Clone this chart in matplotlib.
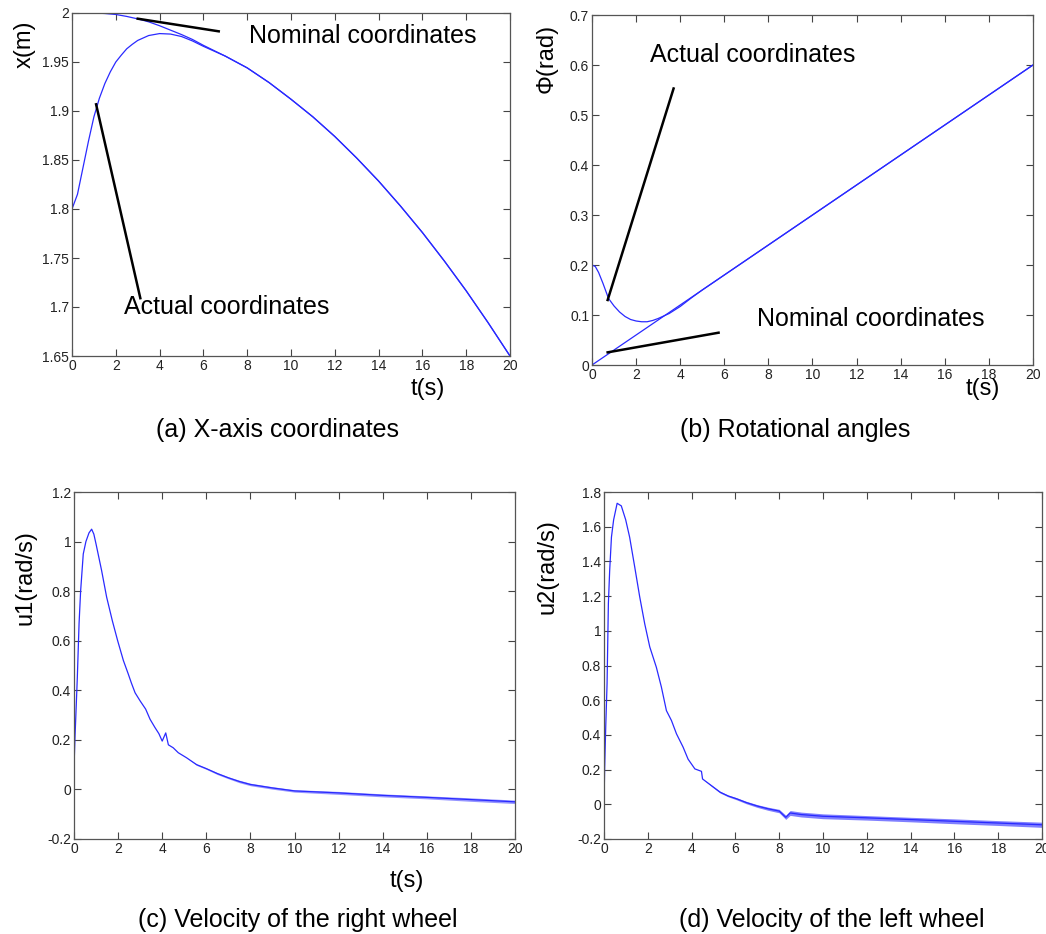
import numpy as np
import matplotlib
matplotlib.use("Agg")
import matplotlib.pyplot as plt
from matplotlib.ticker import FormatStrFormatter

plt.rcParams['font.family'] = ['Liberation Sans', 'DejaVu Sans']

# (a) x coordinate, nominal and actual
t_xnom = [0, 1, 1.5, 2, 2.5, 3, 3.5, 4, 4.5, 5, 5.5, 6, 7, 8, 9, 10, 11, 12, 13, 14, 15, 16,
          17, 18, 19, 20]
x_nom = [2.0, 2.0, 1.9995, 1.9985, 1.9965, 1.994, 1.991, 1.987, 1.9825, 1.978, 1.973, 1.967,
         1.956, 1.944, 1.929, 1.912, 1.894, 1.874, 1.852, 1.8285, 1.803, 1.776, 1.747, 1.7165,
         1.684, 1.65]
t_xact = [0, 0.25, 0.5, 0.75, 1, 1.25, 1.5, 1.75, 2, 2.25, 2.5, 2.75, 3, 3.5, 4, 4.5, 5, 5.5,
          6, 7, 8, 9, 10, 11, 12, 13, 14, 15, 16, 17, 18, 19, 20]
x_act = [1.8, 1.815, 1.842, 1.869, 1.894, 1.913, 1.928, 1.940, 1.950, 1.957, 1.9635, 1.968,
         1.972, 1.977, 1.979, 1.9785, 1.976, 1.9715, 1.966, 1.956, 1.944, 1.929, 1.912, 1.894,
         1.874, 1.852, 1.8285, 1.803, 1.776, 1.747, 1.7165, 1.684, 1.65]

# (b) rotational angle
t_pnom = [0, 20]
p_nom = [0.0, 0.6]
t_pact = [0, 0.15, 0.3, 0.5, 0.75, 1, 1.25, 1.5, 1.75, 2, 2.25, 2.5, 2.75, 3, 3.5, 4, 4.5, 5,
          10, 15, 20]
p_act = [0.2, 0.197, 0.185, 0.163, 0.133, 0.118, 0.106, 0.097, 0.091, 0.088, 0.0865, 0.0865,
         0.089, 0.093, 0.103, 0.117, 0.134, 0.15, 0.3, 0.45, 0.6]

# (c) right wheel velocity
t_u1 = [0, 0.045, 0.15, 0.23, 0.3, 0.42, 0.54, 0.68, 0.8, 0.9, 1.0, 1.25, 1.48, 1.74, 1.98,
        2.24, 2.46, 2.6, 2.77, 3.0, 3.25, 3.45, 3.67, 3.85, 4.0, 4.16, 4.28, 4.5, 4.73, 5.1,
        5.56, 6, 6.5, 7, 7.5, 8, 9, 10, 12, 14, 16, 18, 20]
u1 = [0.09, 0.21, 0.45, 0.67, 0.80, 0.95, 1.0, 1.035, 1.05, 1.03, 0.99, 0.884, 0.776, 0.68,
      0.60, 0.52, 0.466, 0.43, 0.39, 0.357, 0.324, 0.283, 0.25, 0.225, 0.195, 0.228, 0.18,
      0.168, 0.148, 0.128, 0.10, 0.084, 0.064, 0.047, 0.032, 0.02, 0.006, -0.006, -0.014,
      -0.024, -0.032, -0.041, -0.05]
u1_noise = [0] * 30 + [0.003, 0.003, 0.004, 0.004, 0.005, 0.005, 0.005, 0.005, 0.006, 0.006,
                       0.006, 0.007, 0.007]

# (d) left wheel velocity
t_u2 = [0, 0.03, 0.08, 0.14, 0.2, 0.26, 0.34, 0.44, 0.6, 0.79, 0.99, 1.17, 1.4, 1.63, 1.86,
        2.09, 2.39, 2.62, 2.85, 3.08, 3.31, 3.61, 3.84, 4.15, 4.45, 4.5, 4.9, 5.3, 5.67, 6.05,
        6.5, 7, 7.5, 8, 8.3, 8.5, 9, 10, 12, 14, 16, 18, 20]
u2 = [0.0, 0.21, 0.45, 0.695, 1.157, 1.35, 1.54, 1.64, 1.735, 1.72, 1.64, 1.54, 1.37, 1.196,
      1.04, 0.907, 0.79, 0.676, 0.54, 0.483, 0.406, 0.33, 0.26, 0.204, 0.19, 0.146, 0.108,
      0.07, 0.048, 0.032, 0.01, -0.01, -0.026, -0.039, -0.075, -0.05, -0.059, -0.069, -0.078,
      -0.088, -0.098, -0.108, -0.118]
u2_noise = [0] * 26 + [0.004, 0.005, 0.005, 0.006, 0.007, 0.008, 0.009, 0.01, 0.012, 0.014,
                       0.014, 0.014, 0.013, 0.013, 0.014, 0.014, 0.015]

fig = plt.figure(figsize=(10.46, 9.34), dpi=100)
W, H = 1046, 934


def make_ax(l, t, r, b):
    return fig.add_axes([l / W, 1 - b / H, (r - l) / W, (b - t) / H])


def style(ax, ylim, ystep):
    ax.set_xlim(0, 20)
    ax.set_ylim(*ylim)
    ax.set_xticks(np.arange(0, 21, 2))
    ax.set_yticks(np.arange(ylim[0], ylim[1] + ystep / 2, ystep))
    ax.yaxis.set_major_formatter(FormatStrFormatter('%g'))
    ax.xaxis.set_major_formatter(FormatStrFormatter('%g'))
    ax.tick_params(direction='in', top=True, right=True, length=5, width=0.8,
                   labelsize=10, colors='#444444', labelcolor='#222222', pad=2)
    for s in ax.spines.values():
        s.set_color('#555555')
        s.set_linewidth(0.9)


blue = '#2a2aff'
ann = dict(fontsize=18, color='black')

# (a)
ax = make_ax(72, 13, 510, 356)
ax.plot(t_xnom, x_nom, color=blue, lw=0.9)
ax.plot(t_xact, x_act, color=blue, lw=0.9)
style(ax, (1.65, 2.0), 0.05)
ax.plot([3.0, 6.7], [1.9942, 1.9813], color='black', lw=1.8)
ax.text(8.1, 1.9765, 'Nominal coordinates', va='center', **ann)
ax.plot([1.1, 3.12], [1.9068, 1.709], color='black', lw=1.8)
ax.text(2.36, 1.70, 'Actual coordinates', va='center', **ann)

# (b)
ax = make_ax(592, 15, 1033, 365)
ax.plot(t_pnom, p_nom, color=blue, lw=0.9)
ax.plot(t_pact, p_act, color=blue, lw=0.9)
style(ax, (0, 0.7), 0.1)
ax.plot([0.71, 3.7], [0.13, 0.553], color='black', lw=1.8)
ax.text(2.61, 0.62, 'Actual coordinates', va='center', **ann)
ax.plot([0.71, 5.74], [0.0253, 0.0646], color='black', lw=1.8)
ax.text(7.47, 0.0913, 'Nominal coordinates', va='center', **ann)

# (c)
ax = make_ax(74, 492, 515, 839)
u1a = np.array(u1)
n1 = np.array(u1_noise)
ax.fill_between(t_u1, u1a - n1, u1a + n1, color=blue, alpha=0.5, lw=0)
ax.plot(t_u1, u1, color=blue, lw=0.9)
style(ax, (-0.2, 1.2), 0.2)

# (d)
ax = make_ax(604, 492, 1042, 839)
u2a = np.array(u2)
n2 = np.array(u2_noise)
ax.fill_between(t_u2, u2a - n2, u2a + n2, color=blue, alpha=0.6, lw=0)
ax.plot(t_u2, u2, color=blue, lw=0.9)
style(ax, (-0.2, 1.8), 0.2)

# axis labels
lab = dict(fontsize=17, color='black', ha='center', va='center')
fig.text(25 / W, 1 - 44 / H, 'x(m)', rotation=90, **lab)
fig.text(547 / W, 1 - 58 / H, 'Φ(rad)', rotation=90, **lab)
fig.text(25 / W, 1 - 578 / H, 'u1(rad/s)', rotation=90, **lab)
fig.text(547 / W, 1 - 567 / H, 'u2(rad/s)', rotation=90, **lab)
fig.text(428 / W, 1 - 389 / H, 't(s)', **lab)
fig.text(983 / W, 1 - 389 / H, 't(s)', **lab)
fig.text(407 / W, 1 - 881 / H, 't(s)', **lab)

# subtitles
sub = dict(fontsize=18, color='black', ha='center', va='center')
fig.text(277 / W, 1 - 430 / H, '(a) X-axis coordinates', **sub)
fig.text(795 / W, 1 - 430 / H, '(b) Rotational angles', **sub)
fig.text(298 / W, 1 - 920 / H, '(c) Velocity of the right wheel', **sub)
fig.text(832 / W, 1 - 920 / H, '(d) Velocity of the left wheel', **sub)

fig.savefig('out.png', dpi=100)
